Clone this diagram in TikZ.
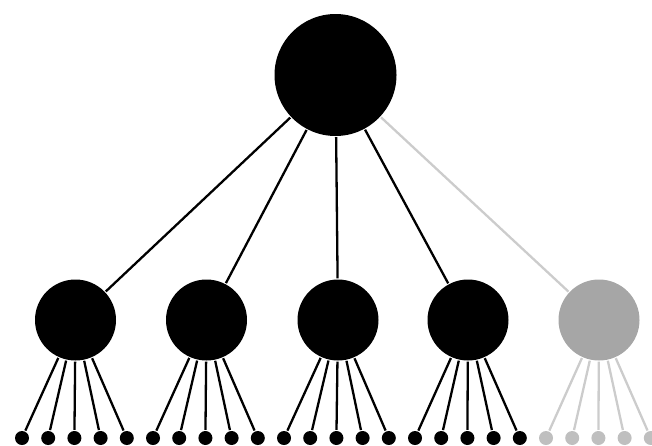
\documentclass[tikz,border=0pt]{standalone}
\begin{document}
\begin{tikzpicture}[x=1pt, y=-1pt, line width=2.3pt,
  hub/.style={circle, fill=black, inner sep=0pt, minimum size=122pt},
  mid/.style={circle, inner sep=0pt, minimum size=81pt},
  leaf/.style={circle, inner sep=0pt, minimum size=14pt}]
\useasboundingbox (0,0) rectangle (652,445);
\node[hub] (root) at (335.5,75) {};
\foreach \i/\x/\c/\lc/\dc in {1/75.5/black/black/black, 2/206.5/black/black/black, 3/338/black/black/black, 4/468/black/black/black, 5/599/black!35/black!20/black!25} {
  \node[mid, fill=\c] (m\i) at (\x,320) {}; \draw[\lc] (root) -- (m\i);
  \foreach \j in {1,...,5} { \pgfmathsetmacro\lx{22+26.2*((\i-1)*5+\j-1)} \node[leaf, fill=\dc] (l\i\j) at (\lx,438) {}; \draw[\lc] (m\i) -- (l\i\j); }
}
\end{tikzpicture}
\end{document}
